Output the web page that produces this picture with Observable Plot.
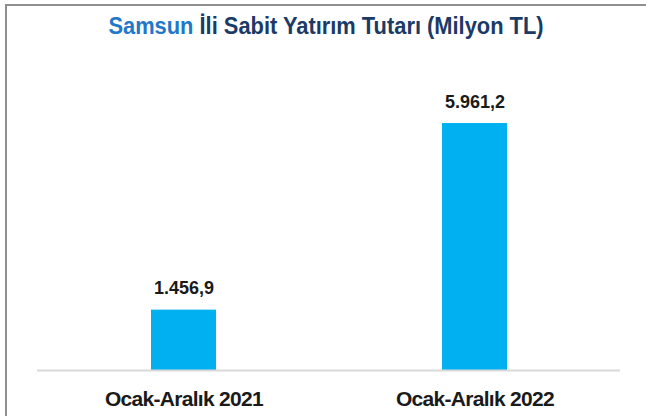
<!DOCTYPE html>
<html>
<head>
<meta charset="utf-8">
<script src="https://cdn.jsdelivr.net/npm/d3@7"></script>
<script src="https://cdn.jsdelivr.net/npm/@observablehq/plot@0.6"></script>
<style>
  html, body { margin: 0; padding: 0; background: #fff; }
  #wrap { position: relative; width: 646px; height: 416px; overflow: hidden; }
  #frame { position: absolute; left: 5px; top: 4px; width: 650px; height: 420px;
           border-left: 2px solid #8f8f8f; border-top: 2px solid #8f8f8f; }
  #title { position: absolute; left: 0; top: 13px; width: 652px; text-align: center;
           font-family: "Liberation Sans", Arial, sans-serif;
           font-weight: bold; font-size: 23.5px; color: #1b3a66;
           transform: scaleX(0.93); transform-origin: 326px 0; white-space: nowrap; }
  #title .city { color: #1f78c8; }
  #chart { position: absolute; left: 0; top: 0; }
  #chart text { font-family: "Liberation Sans", Arial, sans-serif; }
  #chart g[aria-label="x-axis tick label"] text { letter-spacing: -0.7px; }
</style>
</head>
<body>
<div id="wrap">
  <div id="frame"></div>
  <div id="chart"></div>
  <div id="title"><span class="city">Samsun</span> İli Sabit Yatırım Tutarı (Milyon TL)</div>
</div>
<script>
const periods = ["Ocak-Aralık 2021", "Ocak-Aralık 2022"];
const values = [1456.9, 5961.2];
const valueLabels = ["1.456,9", "5.961,2"];

const data = periods.map((p, i) => ({period: p, value: values[i], label: valueLabels[i]}));

const chart = Plot.plot({
  width: 646,
  height: 416,
  marginTop: 80,
  marginBottom: 46,
  marginLeft: 37,
  marginRight: 26,
  x: {domain: periods, paddingInner: 0.777, paddingOuter: 0.3885, align: 0.5},
  y: {domain: [0, 7000], axis: null},
  style: {background: "transparent", color: "#222"},
  marks: [
    Plot.barY(data, {x: "period", y: "value", fill: "#00b0f0"}),
    Plot.ruleY([0], {stroke: "#d9d9d9", strokeWidth: 2}),
    Plot.text(data, {x: "period", y: "value", text: "label", lineAnchor: "bottom", dy: -16,
      fontSize: 18, fontWeight: "bold", fill: "#1a1a1a"}),
    Plot.axisX({tickSize: 0, tickPadding: 21, fontSize: 21, fontWeight: "bold", label: null,
      color: "#1a1a1a"})
  ]
});
document.getElementById("chart").appendChild(chart);
</script>
</body>
</html>
